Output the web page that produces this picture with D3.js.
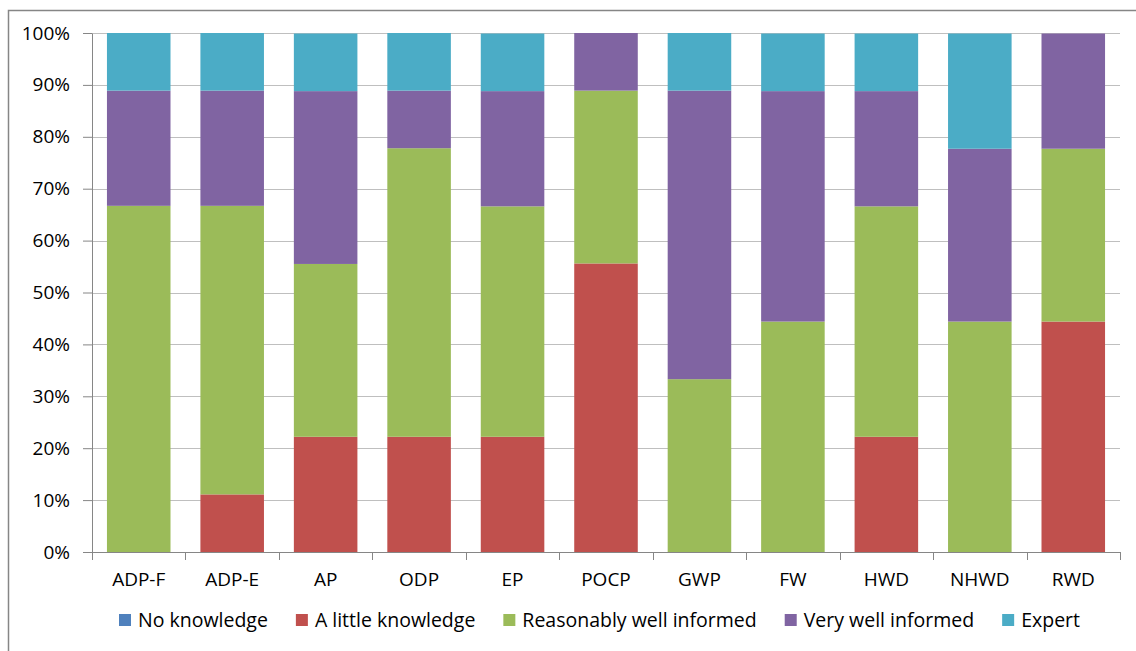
<!DOCTYPE html>
<html>
<head>
<meta charset="utf-8">
<script src="https://cdn.jsdelivr.net/npm/d3@7"></script>
<style>
  body { margin: 0; background: #fff; }
  svg { display: block; }
</style>
</head>
<body>
<svg id="chart" width="1136" height="651"></svg>
<script>
// Categories and series (percent of respondents)
var categories = ["ADP-F", "ADP-E", "AP", "ODP", "EP", "POCP", "GWP", "FW", "HWD", "NHWD", "RWD"];
var seriesNames = ["No knowledge", "A little knowledge", "Reasonably well informed", "Very well informed", "Expert"];
var seriesColors = ["#4F81BD", "#C0504D", "#9BBB59", "#8064A2", "#4BACC6"];

var noKnowledge   = [0, 0, 0, 0, 0, 0, 0, 0, 0, 0, 0];
var aLittle       = [0, 11.1, 22.2, 22.2, 22.2, 55.6, 0, 0, 22.2, 0, 44.4];
var reasonably    = [66.7, 55.6, 33.3, 55.6, 44.4, 33.3, 33.3, 44.4, 44.4, 44.4, 33.3];
var veryWell      = [22.2, 22.2, 33.3, 11.1, 22.2, 11.1, 55.6, 44.4, 22.2, 33.3, 22.2];
var expert        = [11.1, 11.1, 11.1, 11.1, 11.1, 0, 11.1, 11.1, 11.1, 22.2, 0];

var yTicks = [0, 10, 20, 30, 40, 50, 60, 70, 80, 90, 100];

var seriesValues = [noKnowledge, aLittle, reasonably, veryWell, expert];

// build rows for d3.stack
var rows = categories.map(function (c, i) {
    var r = { cat: c };
    seriesNames.forEach(function (s, j) { r[s] = seriesValues[j][i]; });
    return r;
});

var svg = d3.select("#chart");
var font = "'Open Sans', 'Noto Sans', sans-serif";

var margin = { top: 33, left: 92, right: 16, bottom: 99 };
var width = 1136;
var height = 651;
var plotWidth = width - margin.left - margin.right;
var plotHeight = height - margin.top - margin.bottom;

// outer border
svg.append("rect")
    .attr("x", 8.5).attr("y", 10.5)
    .attr("width", 1140).attr("height", 660)
    .attr("fill", "none")
    .attr("stroke", "#868686")
    .attr("stroke-width", 1.5);

var plot = svg.append("g").attr("transform", "translate(" + margin.left + "," + margin.top + ")");

var x = d3.scaleBand()
    .domain(categories)
    .range([0, plotWidth])
    .paddingInner(0.32)
    .paddingOuter(0.16);

var y = d3.scaleLinear()
    .domain([0, 100])
    .range([plotHeight, 0]);

// gridlines
plot.append("g").selectAll("line")
    .data(yTicks.filter(function (d) { return d > 0; }))
    .enter().append("line")
    .attr("x1", 0).attr("x2", plotWidth)
    .attr("y1", function (d) { return Math.round(y(d)) + 0.5; })
    .attr("y2", function (d) { return Math.round(y(d)) + 0.5; })
    .attr("stroke", "#bfbfbf")
    .attr("stroke-width", 1);

// stacked bars
var stack = d3.stack().keys(seriesNames);
var layers = stack(rows);

plot.selectAll("g.layer")
    .data(layers)
    .enter().append("g")
    .attr("class", "layer")
    .attr("fill", function (d, i) { return seriesColors[i]; })
    .selectAll("rect")
    .data(function (d) { return d; })
    .enter().append("rect")
    .attr("x", function (d) { return x(d.data.cat); })
    .attr("width", x.bandwidth())
    .attr("y", function (d) { return y(d[1]); })
    .attr("height", function (d) { return y(d[0]) - y(d[1]); });

// y axis
var yAxis = d3.axisLeft(y)
    .tickValues(yTicks)
    .tickFormat(function (d) { return d + "%"; })
    .tickSize(9)
    .tickSizeOuter(0)
    .tickPadding(13);

var yGroup = plot.append("g").call(yAxis);
yGroup.select(".domain").attr("stroke", "#868686");
yGroup.selectAll(".tick line").attr("stroke", "#868686");
yGroup.selectAll("text")
    .style("font-family", font)
    .style("font-size", "19px")
    .attr("fill", "#000");

// x axis: line with ticks at category boundaries
var xGroup = plot.append("g").attr("transform", "translate(0," + plotHeight + ")");
xGroup.append("line")
    .attr("x1", 0).attr("x2", plotWidth)
    .attr("y1", 0.5).attr("y2", 0.5)
    .attr("stroke", "#868686");
var step = x.step();
xGroup.selectAll("line.tk")
    .data(d3.range(categories.length + 1))
    .enter().append("line")
    .attr("class", "tk")
    .attr("x1", function (d) { return Math.round(d * step) + 0.5; })
    .attr("x2", function (d) { return Math.round(d * step) + 0.5; })
    .attr("y1", 0).attr("y2", 8)
    .attr("stroke", "#868686");
xGroup.selectAll("text")
    .data(categories)
    .enter().append("text")
    .attr("x", function (d) { return x(d) + x.bandwidth() / 2; })
    .attr("y", 34)
    .attr("text-anchor", "middle")
    .style("font-family", font)
    .style("font-size", "19px")
    .attr("fill", "#000")
    .text(function (d) { return d; });

// legend
var legend = svg.append("g").attr("transform", "translate(119,614)");
var lx = 0;
seriesNames.forEach(function (s, i) {
    var item = legend.append("g").attr("transform", "translate(" + lx + ",0)");
    item.append("rect")
        .attr("width", 12).attr("height", 12)
        .attr("fill", seriesColors[i]);
    var t = item.append("text")
        .attr("x", 19).attr("y", 13)
        .style("font-family", font)
        .style("font-size", "19.5px")
        .attr("fill", "#000")
        .text(s);
    lx += 19 + t.node().getComputedTextLength() + 28;
});
</script>
</body>
</html>
